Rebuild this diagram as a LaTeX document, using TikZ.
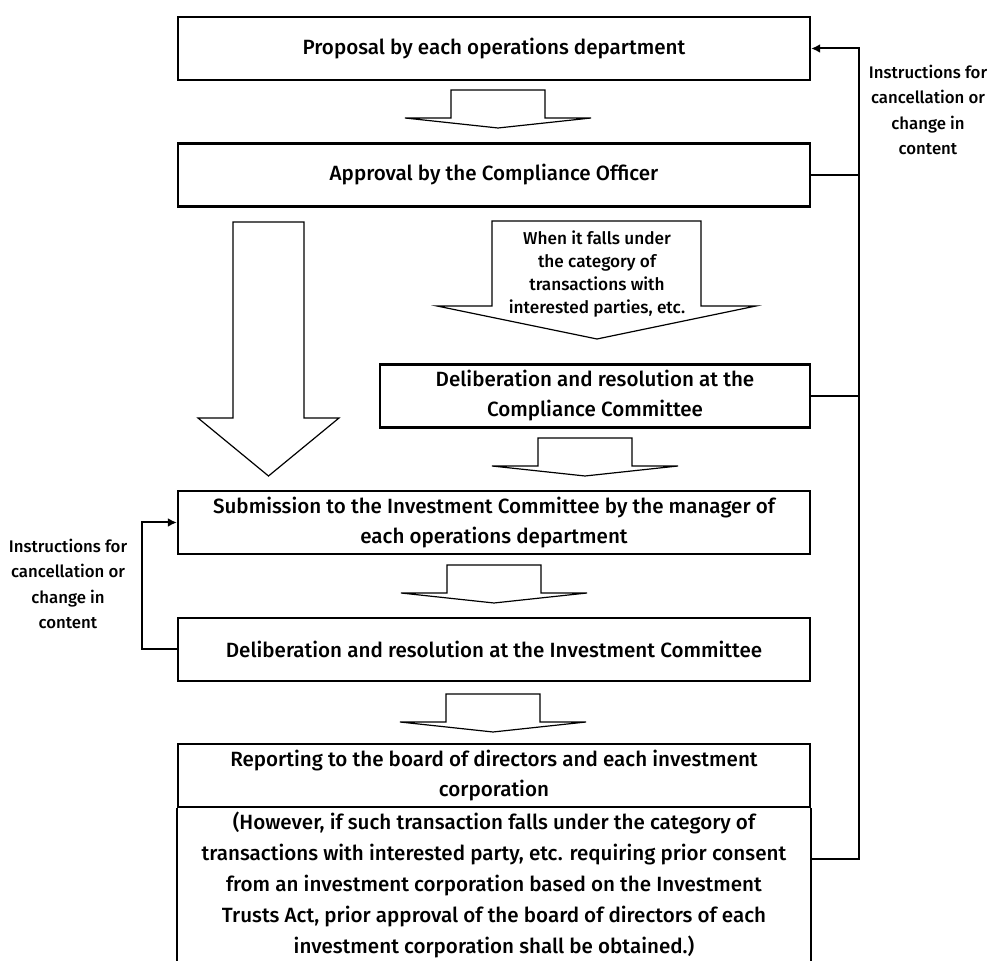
\documentclass[tikz,border=0pt]{standalone}
\usepackage{fontspec}
\setmainfont{Fira Sans}[UprightFont={* Medium}]
\usetikzlibrary{arrows.meta}

\begin{document}
\begin{tikzpicture}[x=0.5pt,y=-0.5pt,
    box/.style={draw,line width=1.2pt,minimum width=316pt,minimum height=31.5pt,inner sep=1pt,align=center,font=\fontsize{10.3}{15}\selectfont},
    blockarrow/.style={draw,line width=0.6pt,line join=miter},
    fb/.style={line width=1pt},
    sidelabel/.style={align=center,font=\fontsize{8.4}{12.8}\selectfont}]
    \path[use as bounding box] (0,0) rectangle (992,961);

    % Kotak proses
    \node[box] (prop) at (494,48.5) {Proposal by each operations department};
    \node[box] (appr) at (494,175) {Approval by the Compliance Officer};
    \node[box,minimum width=215pt] (compl) at (595,396) {Deliberation and resolution at the\\Compliance Committee};
    \node[box] (subm) at (494,522.5) {Submission to the Investment Committee by the manager of\\each operations department};
    \node[box] (delib) at (494,649.5) {Deliberation and resolution at the Investment Committee};
    \node[box] (rep) at (494,775.5) {Reporting to the board of directors and each investment\\corporation};
    \node[box,draw=none,font=\fontsize{10.3}{15.5}\selectfont] (note) at (494,885) {(However, if such transaction falls under the category of\\transactions with interested party, etc. requiring prior consent\\from an investment corporation based on the Investment\\Trusts Act, prior approval of the board of directors of each\\investment corporation shall be obtained.)};
    \draw[line width=1.2pt] (rep.south west) -- ++(0,200);
    \draw[line width=1.2pt] (rep.south east) -- ++(0,200);

    % Panah blok kecil
    \foreach \cx/\ty in {498/90,585/438,494/565,493/694}
        \draw[blockarrow] (\cx-47,\ty) -- (\cx+47,\ty) -- (\cx+47,\ty+28) -- (\cx+93,\ty+28)
            -- (\cx,\ty+38) -- (\cx-93,\ty+28) -- (\cx-47,\ty+28) -- cycle;

    % Panah blok besar (langsung)
    \draw[blockarrow] (233,222) -- (304,222) -- (304,418) -- (339,418) -- (268.5,476)
        -- (198,418) -- (233,418) -- cycle;

    % Panah blok bersyarat
    \draw[blockarrow] (492,221) -- (701,221) -- (701,306) -- (756,306) -- (597,339)
        -- (437,306) -- (492,306) -- cycle;
    \node[align=center,font=\fontsize{8.6}{11.4}\selectfont] (cond) at (597,274)
        {When it falls under\\the category of\\transactions with\\interested parties, etc.};

    % Jalur umpan balik kanan
    \coordinate (rbus) at (859,859);
    \draw[fb,-{Latex[length=4.5pt,width=4.5pt]}] (rbus -| note.east) -- (rbus) |- (prop.east);
    \draw[fb] (appr.east) -- (appr.east -| rbus);
    \draw[fb] (compl.east) -- (compl.east -| rbus);
    \node[sidelabel] (rlab) at (928,110) {Instructions for\\cancellation or\\change in\\content};

    % Jalur umpan balik kiri
    \coordinate (lbus) at (142,0);
    \draw[fb,-{Latex[length=4.5pt,width=4.5pt]}] (delib.west) -- (delib.west -| lbus) |- (subm.west);
    \node[sidelabel] (llab) at (68,584) {Instructions for\\cancellation or\\change in\\content};
\end{tikzpicture}
\end{document}
